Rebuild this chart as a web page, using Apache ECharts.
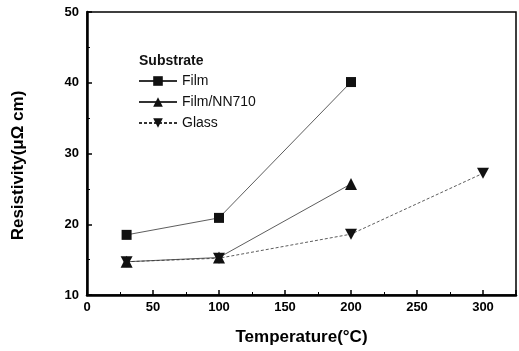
<!DOCTYPE html>
<html>
<head>
<meta charset="utf-8">
<script src="https://cdn.jsdelivr.net/npm/echarts@6/dist/echarts.min.js"></script>
<style>
  html, body { margin: 0; padding: 0; background: #fff; }
  #main { width: 519px; height: 351px; }
</style>
</head>
<body>
<div id="main"></div>
<script>
var temps = [30, 100, 200, 300];
var film = [18.5, 20.9, 40.1];
var filmNN = [14.7, 15.3, 25.7];
var glass = [14.7, 15.2, 18.6, 27.2];
var names = ['Film', 'Film/NN710', 'Glass'];

function pairs(vals) {
  var out = [];
  for (var i = 0; i < vals.length; i++) out.push([temps[i], vals[i]]);
  return out;
}

var font = 'Liberation Sans, Arial, sans-serif';
var downTri = 'path://M0,0 L10,0 L5,9 Z';

var option = {
  animation: false,
  title: {
    text: 'Substrate',
    left: 134,
    top: 49,
    textStyle: { fontFamily: font, fontSize: 14, fontWeight: 'bold', color: '#111' }
  },
  legend: {
    orient: 'vertical',
    left: 133,
    top: 69,
    itemWidth: 38,
    itemHeight: 12,
    itemGap: 7,
    data: names,
    textStyle: { fontFamily: font, fontSize: 14, color: '#111' }
  },
  grid: {
    left: 87,
    right: 1,
    top: 12,
    bottom: 53,
    show: true,
    borderColor: '#000',
    borderWidth: 1.5
  },
  xAxis: {
    type: 'value',
    min: 0,
    max: 325,
    interval: 50,
    name: 'Temperature(°C)',
    nameLocation: 'middle',
    nameGap: 34,
    nameTextStyle: { fontFamily: font, fontSize: 17, fontWeight: 'bold', color: '#000' },
    axisLine: { onZero: false, lineStyle: { color: '#000', width: 2.5 } },
    axisTick: { inside: true, length: 5, lineStyle: { color: '#000', width: 1.5 } },
    minorTick: { show: true, splitNumber: 2, length: 3, lineStyle: { color: '#000', width: 1 } },
    axisLabel: {
      margin: 6,
      fontFamily: font, fontSize: 13, fontWeight: 'bold', color: '#000',
      formatter: function (v) { return v > 300 ? '' : v; }
    },
    splitLine: { show: false }
  },
  yAxis: {
    type: 'value',
    min: 10,
    max: 50,
    interval: 10,
    name: 'Resistivity(μΩ cm)',
    nameLocation: 'middle',
    nameGap: 60,
    nameTextStyle: { fontFamily: font, fontSize: 17, fontWeight: 'bold', color: '#000', padding: [0, 24, 0, 0] },
    axisLine: { lineStyle: { color: '#000', width: 2.5 } },
    axisTick: { inside: true, length: 5, lineStyle: { color: '#000', width: 1.5 } },
    minorTick: { show: true, splitNumber: 2, length: 3, lineStyle: { color: '#000', width: 1 } },
    axisLabel: { margin: 8, fontFamily: font, fontSize: 13, fontWeight: 'bold', color: '#000' },
    splitLine: { show: false }
  },
  series: [
    {
      name: names[0],
      type: 'line',
      data: pairs(film),
      symbol: 'rect',
      symbolSize: 10,
      itemStyle: { color: '#111' },
      lineStyle: { color: '#333', width: 0.8 }
    },
    {
      name: names[1],
      type: 'line',
      data: pairs(filmNN),
      symbol: 'triangle',
      symbolSize: 12,
      itemStyle: { color: '#111' },
      lineStyle: { color: '#333', width: 0.8 }
    },
    {
      name: names[2],
      type: 'line',
      data: pairs(glass),
      symbol: downTri,
      symbolSize: [12, 11],
      itemStyle: { color: '#111' },
      lineStyle: { color: '#333', width: 0.8, type: [3, 2] }
    }
  ]
};

var chart = echarts.init(document.getElementById('main'));
chart.setOption(option);
</script>
</body>
</html>
